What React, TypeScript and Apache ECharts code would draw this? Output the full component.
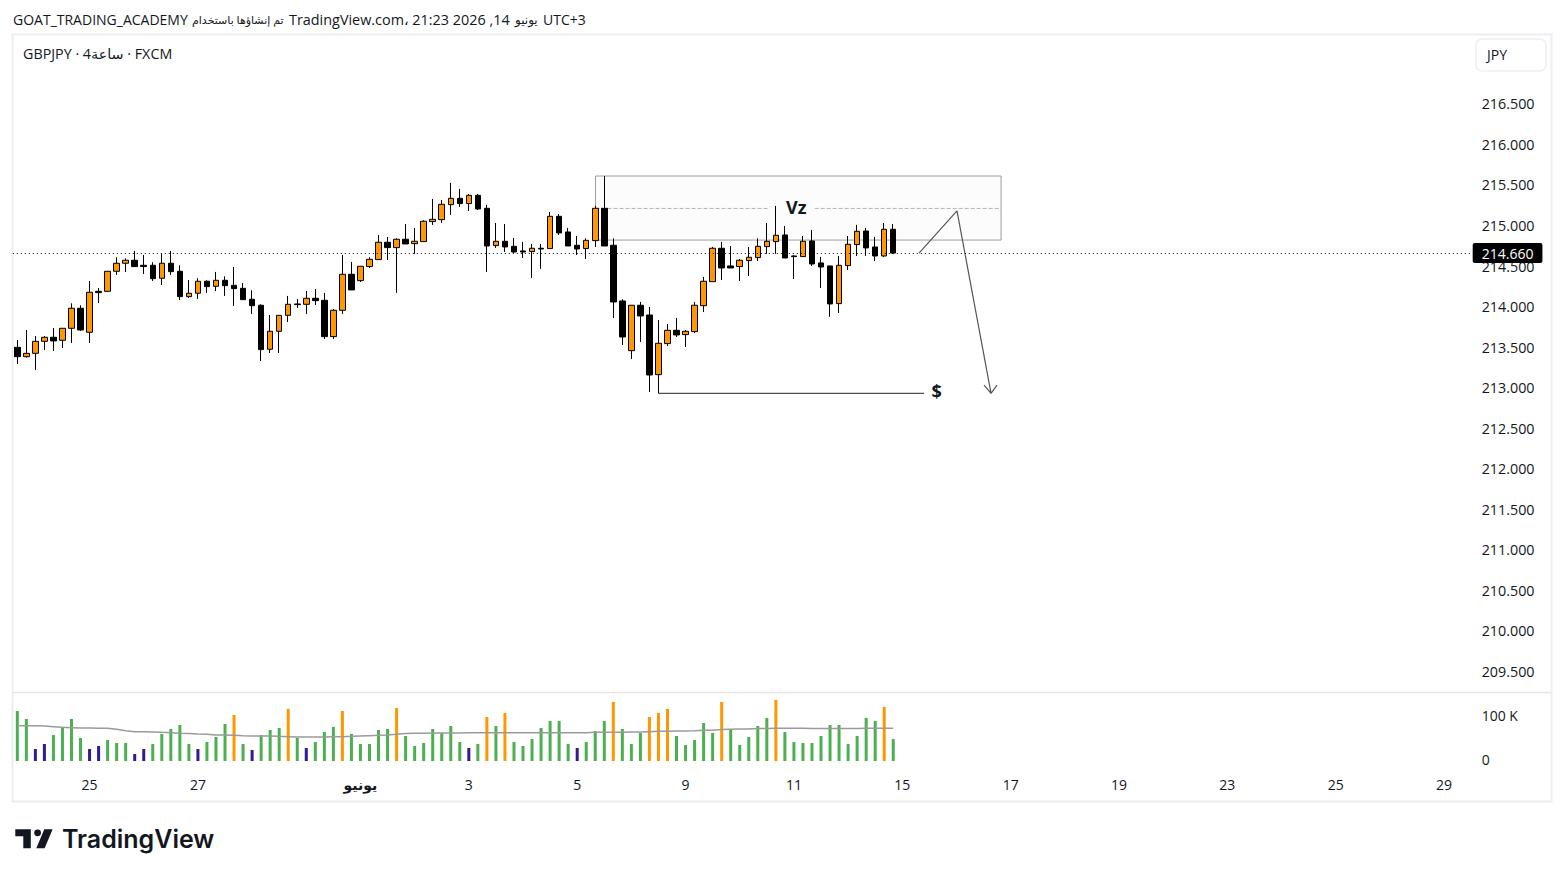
import { useEffect, useRef } from "react";
import * as echarts from "echarts";

const FONT = '"Open Sans", "DejaVu Sans", sans-serif';
const INK = "#131722";

// one row per 4h bar: open, close, low, high
const candles: number[][] = [
  [213.497, 213.382, 213.292, 213.588],
  [213.382, 213.423, 213.37, 213.711],
  [213.423, 213.571, 213.218, 213.637],
  [213.571, 213.621, 213.464, 213.637],
  [213.621, 213.576, 213.452, 213.736],
  [213.584, 213.732, 213.489, 213.736],
  [213.732, 213.979, 213.551, 214.04],
  [213.979, 213.711, 213.699, 214.016],
  [213.682, 214.176, 213.551, 214.316],
  [214.188, 214.172, 214.044, 214.229],
  [214.188, 214.435, 214.184, 214.435],
  [214.435, 214.534, 214.39, 214.608],
  [214.534, 214.571, 214.427, 214.595],
  [214.571, 214.493, 214.488, 214.686],
  [214.509, 214.493, 214.402, 214.636],
  [214.509, 214.344, 214.316, 214.546],
  [214.349, 214.534, 214.266, 214.649],
  [214.534, 214.431, 214.39, 214.686],
  [214.435, 214.122, 214.081, 214.509],
  [214.122, 214.164, 214.106, 214.328],
  [214.164, 214.312, 214.094, 214.349],
  [214.312, 214.246, 214.168, 214.324],
  [214.25, 214.324, 214.192, 214.427],
  [214.324, 214.258, 214.131, 214.373],
  [214.262, 214.221, 214.007, 214.488],
  [214.225, 214.085, 214.081, 214.291],
  [214.09, 214.011, 213.909, 214.201],
  [214.016, 213.469, 213.329, 214.028],
  [213.473, 213.695, 213.427, 213.896],
  [213.695, 213.892, 213.427, 213.892],
  [213.892, 214.028, 213.81, 214.131],
  [214.032, 214.024, 213.983, 214.094],
  [214.028, 214.102, 213.909, 214.192],
  [214.102, 214.073, 214.02, 214.217],
  [214.077, 213.629, 213.6, 214.168],
  [213.629, 213.954, 213.6, 213.97],
  [213.954, 214.398, 213.909, 214.636],
  [214.398, 214.205, 214.205, 214.55],
  [214.32, 214.497, 214.303, 214.497],
  [214.493, 214.583, 214.476, 214.608],
  [214.579, 214.793, 214.575, 214.883],
  [214.793, 214.727, 214.575, 214.858],
  [214.727, 214.83, 214.168, 214.842],
  [214.83, 214.772, 214.772, 215.019],
  [214.776, 214.805, 214.649, 214.97],
  [214.801, 215.052, 214.801, 215.064],
  [215.048, 215.076, 215.007, 215.327],
  [215.072, 215.261, 215.031, 215.315],
  [215.257, 215.335, 215.13, 215.525],
  [215.335, 215.27, 215.229, 215.451],
  [215.27, 215.372, 215.179, 215.389],
  [215.372, 215.204, 215.192, 215.389],
  [215.212, 214.747, 214.427, 215.253],
  [214.752, 214.805, 214.723, 215.031],
  [214.805, 214.735, 214.673, 215.019],
  [214.743, 214.673, 214.661, 214.846],
  [214.686, 214.673, 214.599, 214.797],
  [214.678, 214.719, 214.353, 214.772],
  [214.719, 214.71, 214.464, 214.772],
  [214.715, 215.113, 214.715, 215.167],
  [215.113, 214.908, 214.883, 215.142],
  [214.92, 214.747, 214.747, 214.97],
  [214.756, 214.71, 214.636, 214.871],
  [214.715, 214.817, 214.587, 214.842],
  [214.813, 215.212, 214.735, 215.241],
  [215.212, 214.747, 214.747, 215.611],
  [214.756, 214.057, 213.859, 214.842],
  [214.069, 213.625, 213.526, 214.09],
  [213.456, 214.016, 213.353, 214.016],
  [214.016, 213.884, 213.563, 214.057],
  [213.896, 213.156, 212.946, 213.995],
  [213.16, 213.547, 212.93, 213.835],
  [213.543, 213.707, 213.514, 213.785],
  [213.707, 213.65, 213.625, 213.859],
  [213.654, 213.695, 213.501, 213.711],
  [213.691, 214.016, 213.674, 214.057],
  [214.011, 214.312, 213.933, 214.365],
  [214.307, 214.719, 214.307, 214.735],
  [214.719, 214.476, 214.328, 214.797],
  [214.501, 214.476, 214.476, 214.747],
  [214.493, 214.571, 214.316, 214.587],
  [214.567, 214.608, 214.377, 214.735],
  [214.604, 214.743, 214.562, 214.842],
  [214.739, 214.805, 214.649, 215.031],
  [214.801, 214.879, 214.649, 215.241],
  [214.883, 214.599, 214.599, 214.994],
  [214.624, 214.616, 214.34, 214.632],
  [214.616, 214.805, 214.612, 214.871],
  [214.809, 214.525, 214.501, 214.945],
  [214.538, 214.488, 214.229, 214.612],
  [214.501, 214.032, 213.872, 214.501],
  [214.036, 214.509, 213.921, 214.624],
  [214.505, 214.768, 214.451, 214.871],
  [214.764, 214.928, 214.624, 215.007],
  [214.932, 214.723, 214.624, 214.97],
  [214.735, 214.624, 214.562, 214.858],
  [214.624, 214.953, 214.612, 215.031],
  [214.953, 214.66, 214.649, 215.019],
];

// thousands
const volumes = [
  111, 93.3, 26.7, 37.8, 57.8, 73.3, 93.3, 51.1, 26.7, 33.3,
  46.7, 40, 40, 15.6, 26.7, 37.8, 60, 71.1, 80, 37.8,
  26.7, 42.2, 53.3, 82.2, 102.2, 37.8, 24.4, 57.8, 68.9, 73.3,
  115.6, 51.1, 28.9, 42.2, 64.4, 75.6, 111.1, 60, 37.8, 37.8,
  68.9, 71.1, 117.8, 55.6, 33.3, 40, 71.1, 62.2, 77.8, 42.2,
  28.9, 37.8, 97.8, 77.8, 106.7, 42.2, 33.3, 48.9, 73.3, 88.9,
  88.9, 37.8, 28.9, 42.2, 66.7, 88.9, 131.1, 71.1, 37.8, 62.2,
  97.8, 106.7, 115.6, 55.6, 35.6, 46.7, 84.4, 62.2, 131.1, 68.9,
  35.6, 53.3, 77.8, 95.6, 135.6, 64.4, 42.2, 40, 40, 55.6,
  80, 80, 37.8, 55.6, 95.6, 88.9, 120, 48.9,
];

// G = green, O = orange, B = navy
const volumeKinds =
  "GGBBGGGGBB" + "GGGBBGGGGG" + "BGGGOGBGGG" + "OGBGGGOGGG" + "GGOGGGGGGG" +
  "BGOGOGGGGG" + "GGBGGGOGGG" + "OOOGGGGGOG" + "GGGGOGGGGG" + "GGGGGGOG";

const volumeAverage = [
  78.5, 78.5, 78.5, 77.8, 76.3, 74.8, 74.1, 73.4, 73.4, 72.6,
  72.6, 70.4, 67.4, 65.2, 65.2, 64.5, 63.7, 63, 61.5, 60.8,
  60, 59.3, 57.8, 57.8, 57.1, 56.3, 55.6, 55.6, 55.6, 54.8,
  54.1, 53.4, 53.4, 53.4, 53.4, 54.1, 54.1, 54.8, 55.6, 56.3,
  57.1, 57.8, 59.3, 60.8, 61.5, 61.5, 62.2, 62.2, 62.2, 62.2,
  63, 63, 63, 63, 63, 63, 63, 63, 63, 63,
  63, 63, 63, 63, 63.7, 63.7, 63.7, 63.7, 64.5, 64.5,
  65.2, 65.9, 65.9, 66.7, 66.7, 67.4, 68.2, 68.2, 69.7, 70.4,
  71.1, 71.1, 71.9, 71.9, 72.6, 72.6, 72.6, 72.6, 71.9, 71.9,
  71.9, 71.9, 71.9, 71.9, 72.6, 72.6, 72.6, 72.6,
];

const priceTicks = [
  209.5, 210, 210.5, 211, 211.5, 212, 212.5, 213, 213.5, 214, 214.5, 215, 215.5, 216, 216.5,
];
const volumeTicks = [0, 100];
const lastPrice = 214.66;

const barSlots = 162;
const dateTickSlots = [8, 20, 38, 50, 62, 74, 86, 98, 110, 122, 134, 146, 158];
const dateTickLabels = ["25", "27", "يونيو", "3", "5", "9", "11", "15", "17", "19", "23", "25", "29"];
const categories = Array.from({ length: barSlots }, (_, i) => `bar${i}`);

// hand-drawn annotations, [bar position, price]
const zoneCorners = [[64.03, 215.61], [108.94, 214.82]];
const zoneMidLeft = [[64.03, 215.21], [83.3, 215.21]];
const zoneMidRight = [[88.3, 215.21], [108.94, 215.21]];
const liquidityLine = [[71, 212.93], [100.4, 212.93]];
const tradePath = [
  [99.85, 214.66], [104.06, 215.18], [107.83, 212.93],
  [107.05, 213.03], [107.83, 212.93], [108.49, 213.03],
];

const volumeColors: Record<string, string> = { G: "#4caf50", O: "#ff9800", B: "#311b92" };

echarts.graphic.registerShape(
  "tvLogo",
  echarts.graphic.extendPath(
    "M0 0H15.5V19H8V7H0Z M29 0H37.3L29.3 19H21Z M25.7 3.5A3.4 3.4 0 1 1 18.9 3.5A3.4 3.4 0 1 1 25.7 3.5Z",
    {},
  ) as any,
);

function annotationLine(data: number[][], color: string, type: string = "solid", width = 1) {
  return {
    type: "line" as const,
    xAxisIndex: 2,
    yAxisIndex: 0,
    data,
    symbol: "none",
    silent: true,
    z: 3,
    lineStyle: { color, width, type },
  };
}

function label(text: string, x: number, y: number, font: string, z = 2) {
  return {
    type: "text" as const,
    silent: true,
    x,
    y,
    z,
    style: { text, fill: INK, font, textVerticalAlign: "middle" },
  };
}

export default function App() {
  const ref = useRef<HTMLDivElement>(null);

  useEffect(() => {
    if (!ref.current) return;
    const chart = echarts.init(ref.current, undefined, { renderer: "svg" });

    chart.setOption({
      animation: false,
      backgroundColor: "#ffffff",
      textStyle: { fontFamily: FONT },
      grid: [
        { left: 12.8, top: 36, width: 1462.9, height: 656 },
        { left: 12.8, top: 693, width: 1462.9, height: 68 },
      ],
      xAxis: [
        { type: "category", gridIndex: 0, data: categories, show: false },
        {
          type: "category",
          gridIndex: 1,
          data: categories,
          axisLine: { show: false },
          axisTick: { show: false },
          axisLabel: {
            interval: (i: number) => dateTickSlots.includes(i),
            margin: 16,
            color: INK,
            fontSize: 14,
            fontFamily: FONT,
            formatter: (_v: string, i: number) => {
              const text = dateTickLabels[dateTickSlots.indexOf(i)] ?? "";
              return text === "يونيو" ? `{month|${text}}` : text;
            },
            rich: { month: { fontWeight: "bold", fontSize: 14, fontFamily: FONT, color: INK } },
          },
        },
        { type: "value", gridIndex: 0, min: -0.5, max: barSlots - 0.5, show: false },
      ],
      yAxis: [
        {
          type: "value",
          gridIndex: 0,
          position: "right",
          scale: true,
          min: 209.246,
          max: 217.337,
          splitLine: { show: false },
          axisLine: { show: false },
          axisTick: { show: false },
          axisLabel: {
            customValues: priceTicks,
            margin: 6,
            color: INK,
            fontSize: 14.3,
            fontFamily: FONT,
            formatter: (v: number) => v.toFixed(3),
          },
        },
        {
          type: "value",
          gridIndex: 1,
          position: "right",
          min: 0,
          max: 151,
          splitLine: { show: false },
          axisLine: { show: false },
          axisTick: { show: false },
          axisLabel: {
            customValues: volumeTicks,
            margin: 6,
            color: INK,
            fontSize: 14,
            fontFamily: FONT,
            formatter: (v: number) => (v === 0 ? "{zero|0}" : `${v} K`),
            rich: { zero: { fontSize: 14, fontFamily: FONT, color: INK, padding: [0, 0, 3, 0] } },
          },
        },
      ],
      series: [
        {
          type: "line",
          xAxisIndex: 2,
          yAxisIndex: 0,
          data: [],
          silent: true,
          z: 1,
          markArea: {
            silent: true,
            itemStyle: { color: "#fcfcfc", borderColor: "#9e9e9e", borderWidth: 1 },
            data: [[{ coord: zoneCorners[0] }, { coord: zoneCorners[1] }]],
          },
        },
        annotationLine(zoneMidLeft, "#b2b5be", "dashed"),
        annotationLine(zoneMidRight, "#b2b5be", "dashed"),
        {
          type: "candlestick",
          xAxisIndex: 0,
          yAxisIndex: 0,
          data: candles,
          barWidth: 6,
          z: 5,
          silent: true,
          itemStyle: {
            color: "#ff9800",
            color0: "#000000",
            borderColor: "#000000",
            borderColor0: "#000000",
            borderWidth: 1,
          },
          markLine: {
            silent: true,
            symbol: "none",
            z: 20,
            lineStyle: { color: "#000000", type: [1, 3], width: 1 },
            label: {
              position: "end",
              distance: -3,
              formatter: lastPrice.toFixed(3),
              color: "#ffffff",
              backgroundColor: "#000000",
              fontFamily: FONT,
              fontSize: 14,
              padding: [3, 9, 3, 9],
              borderRadius: 2,
            },
            data: [{ yAxis: lastPrice }],
          },
        },
        annotationLine(liquidityLine, "#222222"),
        annotationLine(tradePath, "#555555", "solid", 1.2),
        {
          type: "bar",
          xAxisIndex: 1,
          yAxisIndex: 1,
          barWidth: 3,
          silent: true,
          data: volumes.map((v, i) => ({
            value: v,
            itemStyle: { color: volumeColors[volumeKinds[i]] },
          })),
        },
        {
          type: "line",
          xAxisIndex: 1,
          yAxisIndex: 1,
          data: volumeAverage,
          symbol: "none",
          silent: true,
          z: 4,
          lineStyle: { color: "#9a9a9a", width: 1.5 },
        },
      ],
      graphic: [
        {
          type: "rect",
          silent: true,
          z: -1,
          shape: { x: 12.5, y: 34.5, width: 1539, height: 767 },
          style: { fill: "none", stroke: "#eceef2", lineWidth: 2 },
        },
        {
          type: "line",
          silent: true,
          shape: { x1: 13, y1: 692.5, x2: 1551, y2: 692.5 },
          style: { stroke: "#e4e6ec", lineWidth: 1.5 },
        },
        {
          type: "rect",
          silent: true,
          shape: { x: 1476, y: 39, width: 70, height: 32, r: 6 },
          style: { fill: "#ffffff", stroke: "#eceef2", lineWidth: 1.5 },
        },
        label("JPY", 1487, 54, `14px ${FONT}`),
        label("GOAT_TRADING_ACADEMY", 13, 19.5, `14px ${FONT}`),
        label("تم إنشاؤها باستخدام", 192, 19.5, `11px ${FONT}`),
        label("TradingView.com، 21:23 2026 ,14", 289, 19.5, `14.4px ${FONT}`),
        label("يونيو", 515, 19.5, `12px ${FONT}`),
        label("UTC+3", 543, 19.5, `14px ${FONT}`),
        label("GBPJPY · 4ساعة · FXCM", 23, 53.5, `14.3px ${FONT}`),
        label("Vz", 786, 207, `bold 18px ${FONT}`, 6),
        label("$", 931.5, 391, `bold 18px ${FONT}`, 6),
        {
          type: "tvLogo",
          silent: true,
          x: 15.3,
          y: 829.3,
          style: { fill: "#131722" },
        },
        label("TradingView", 62, 839, `600 25px Inter, ${FONT}`),
      ],
    });

    return () => chart.dispose();
  }, []);

  return (
    <div
      ref={ref}
      style={{ position: "fixed", left: 0, top: 0, width: 1564, height: 877, background: "#fff" }}
    />
  );
}
